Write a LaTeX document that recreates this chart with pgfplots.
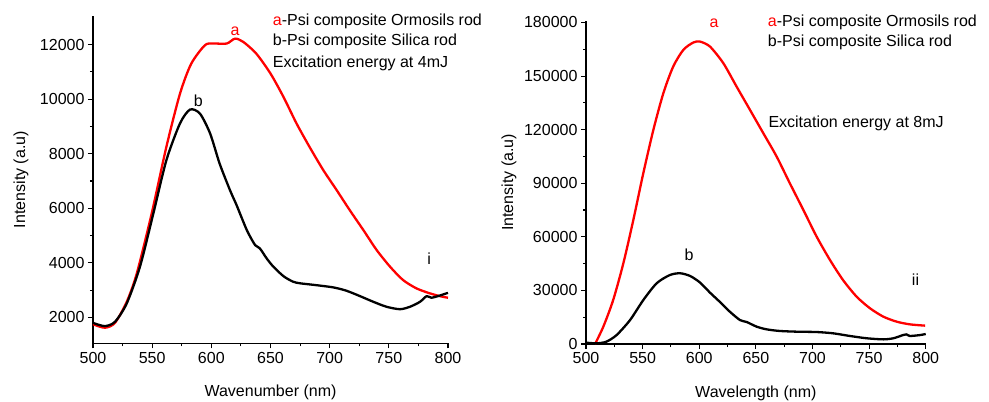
\documentclass[border=0pt]{standalone}
\usepackage{fontspec}
\setmainfont{Liberation Sans}
\usepackage{pgfplots}
\pgfplotsset{compat=1.18}
\definecolor{myred}{RGB}{255,0,0}
\tikzset{note/.style={font=\fontsize{16}{19}\selectfont, inner sep=0pt}}
\pgfplotsset{
  myaxis/.style={
    scale only axis,
    axis lines=left,
    axis line style={line width=1.3pt,-},
    tick align=outside,
    major tick length=5pt,
    minor tick length=3pt,
    every tick/.style={line width=1.1pt,black},
    xmin=500, xmax=800,
    xtick={500,550,...,800},
    minor x tick num=1,
    minor y tick num=1,
    scaled ticks=false,
    /pgf/number format/fixed,
    /pgf/number format/precision=0,
    /pgf/number format/assume math mode=true,
    /pgf/number format/set thousands separator={},
    ticklabel style={font=\fontsize{16}{19}\selectfont},
    label style={font=\fontsize{16}{19}\selectfont},
    clip=false,
    every axis plot/.append style={line width=2.3pt, line join=round, smooth, tension=0.45},
    xlabel style={at={(rel axis cs:0.5,0)}, anchor=center, yshift=-49pt},
  },
}
\begin{document}
\begin{tikzpicture}
\useasboundingbox (0,0) rectangle (989pt,402pt);
% ---------- left panel ----------
\begin{axis}[myaxis,
  at={(93pt,58.7pt)}, anchor=south west,
  width=355pt, height=327.3pt,
  ymin=1050, ymax=13050,
  ytick={2000,4000,...,12000},
  xlabel={Wavenumber (nm)},
  ylabel={Intensity (a.u)},
  ylabel style={at={(rel axis cs:0,0.5)}, anchor=center, yshift=72pt},
]
\addplot[myred] coordinates {
(500,1750) (510,1620) (518.6,1800) (528.5,2570) (537,3610) (549.6,5810)
(562,8250) (573.5,10200) (583,11300) (594.6,11980) (601.7,12040) (613,12040)
(620,12220) (627,12100) (638,11670) (650,10940) (661,10080) (672,9110)
(683,8250) (694.6,7400) (706,6660) (717,5930) (728.5,5200) (739.7,4470)
(751,3860) (762,3370) (773.5,3060) (784.8,2880) (793,2780) (800,2720)
};
\addplot[black] coordinates {
(500,1800) (510,1680) (518.6,1840) (528.5,2510) (539.7,3860) (551,5810)
(562,7760) (573.5,9110) (582,9620) (590.4,9470) (599,8740) (607,7640)
(615.8,6660) (621.4,6110) (630,5200) (637,4650) (641,4530) (646.8,4160)
(652.4,3860) (661,3510) (669,3310) (675,3250) (689,3180) (703,3100)
(714,2980) (725.6,2780) (737,2570) (748,2390) (759.4,2300) (767.9,2390)
(776.3,2570) (782,2780) (786,2720) (793,2800) (800,2900)
};
\node[note, anchor=west] at (axis cs:651.9,12853) {\textcolor{myred}{a}-Psi composite Ormosils rod};
\node[note, anchor=west] at (axis cs:651.9,12132) {b-Psi composite Silica rod};
\node[note, anchor=west] at (axis cs:651.9,11304) {Excitation energy at 4mJ};
\node[note, text=myred] at (axis cs:620,12498) {a};
\node[note] at (axis cs:589,9934) {b};
\node[note] at (axis cs:784,4161) {i};
\end{axis}
% ---------- right panel ----------
\begin{axis}[myaxis,
  at={(586pt,58pt)}, anchor=south west,
  width=339.7pt, height=323.3pt,
  ymin=0, ymax=181000,
  ytick={0,30000,60000,90000,120000,150000,180000},
  xlabel={Wavelength (nm)},
  ylabel={Intensity (a.u)},
  ylabel style={at={(rel axis cs:0,0.5)}, anchor=center, yshift=77pt},
]
\addplot[myred] coordinates {
(508,0) (515.3,9700) (524,24600) (533,45200) (541.8,69450) (550.6,95600)
(559.5,119900) (568.3,140400) (577,155300) (586,164700) (594.8,168800)
(600.7,169300) (609.5,166500) (621.3,157200) (633,144100) (644.8,131100)
(656.6,118000) (668.4,104900) (680,90000) (692,75000) (703.7,60100)
(715.5,47000) (727,35800) (739,26500) (750.8,20000) (762.6,15300)
(774.4,12500) (786,11000) (799.5,10270)
};
\addplot[black] coordinates {
(500,750) (509.4,370) (518,1300) (527,5000) (538.9,13400) (550.6,24600)
(562.4,34000) (574,38600) (583,39600) (591.9,38100) (600.7,34400)
(609.5,28750) (618,23700) (627,18100) (636,13400) (642,12300) (650.7,9700)
(659.6,8200) (671,7300) (686,6900) (703.7,6700) (718,6000) (733,4500)
(748,3200) (762.6,2600) (771.4,3200) (780,5000) (783,5400) (786,4500)
(795,5000) (800,5600)
};
\node[note, anchor=west] at (axis cs:660.5,180000) {\textcolor{myred}{a}-Psi composite Ormosils rod};
\node[note, anchor=west] at (axis cs:660.5,168790) {b-Psi composite Silica rod};
\node[note, anchor=west] at (axis cs:661,123244) {Excitation energy at 8mJ};
\node[note, text=myred] at (axis cs:613,179656) {a};
\node[note] at (axis cs:591,49858) {b};
\node[note] at (axis cs:791,35853) {ii};
\end{axis}
\end{tikzpicture}
\end{document}
